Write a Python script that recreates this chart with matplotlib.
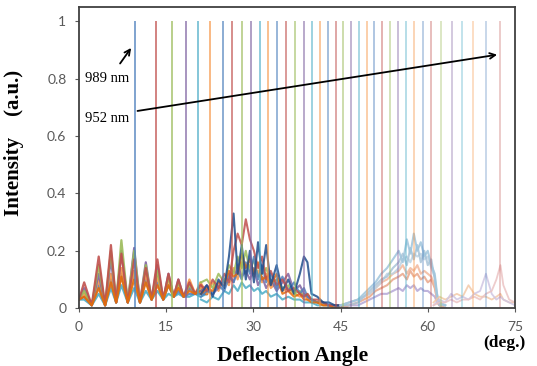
import matplotlib.pyplot as plt

# peak positions (deg) of the main spikes, left to right
spike_angles = [9.6, 13.2, 16.0, 18.4, 20.5, 22.5, 24.7, 26.4, 28.0, 29.6,
                31.1, 32.6, 34.1, 35.6, 37.1, 38.7, 40.1, 41.5, 42.8, 44.2,
                45.5, 46.8, 48.1, 49.5, 50.7, 52.1, 53.5, 54.9, 56.3, 57.6,
                59.1, 60.6, 62.2, 64.1, 65.9, 67.7, 70.1, 72.5]
spike_heights = [1.0] * len(spike_angles)

# excel 2010 series colours
palette = ["#4F81BD", "#C0504D", "#9BBB59", "#8064A2", "#4BACC6", "#F79646"]

# side lobes 0-22 deg: peak / trough positions
a_peak_ang = [0.9, 3.4, 5.5, 7.3, 9.5, 11.5, 13.5, 15.4, 17.1, 19.0, 20.9]
a_trough_ang = [0.0, 2.2, 4.5, 6.4, 8.4, 10.5, 12.5, 14.5, 16.3, 18.0, 20.0, 22.0]
a_trough = [0.03, 0.01, 0.01, 0.02, 0.02, 0.02, 0.03, 0.03, 0.04, 0.04, 0.05, 0.05]
a_peaks = {
    "#4BACC6": [0.03, 0.05, 0.07, 0.08, 0.07, 0.06, 0.06, 0.05, 0.05, 0.04, 0.04],
    "#4F81BD": [0.04, 0.08, 0.10, 0.12, 0.13, 0.10, 0.09, 0.08, 0.06, 0.05, 0.05],
    "#F79646": [0.05, 0.10, 0.12, 0.14, 0.13, 0.12, 0.11, 0.10, 0.08, 0.10, 0.09],
    "#8064A2": [0.07, 0.12, 0.17, 0.20, 0.21, 0.16, 0.15, 0.12, 0.10, 0.07, 0.06],
    "#9BBB59": [0.06, 0.15, 0.20, 0.237, 0.20, 0.15, 0.13, 0.11, 0.09, 0.08, 0.07],
    "#C0504D": [0.09, 0.18, 0.22, 0.19, 0.17, 0.14, 0.17, 0.12, 0.10, 0.09, 0.08],
    "#E46C0A": [0.04, 0.07, 0.09, 0.11, 0.10, 0.09, 0.08, 0.08, 0.07, 0.06, 0.06],
}

# side lobes 21-46 deg
b_ang = [21, 22, 23, 24, 25, 25.8, 26.6, 27.3, 28, 28.7, 29.4, 30.1, 30.8, 31.5, 32.2,
         33, 34, 35, 36, 37, 38, 38.7, 39.3, 40, 41, 42, 43, 44, 45, 46]
b_traces = {
    "#4BACC6": [0.03, 0.02, 0.04, 0.03, 0.06, 0.05, 0.08, 0.06, 0.09, 0.07, 0.08, 0.06, 0.07, 0.05, 0.06,
                0.04, 0.05, 0.03, 0.04, 0.03, 0.03, 0.02, 0.02, 0.02, 0.01, 0.01, 0.01, 0.0, 0.0, 0.0],
    "#F79646": [0.07, 0.05, 0.09, 0.06, 0.10, 0.08, 0.14, 0.10, 0.16, 0.12, 0.15, 0.11, 0.13, 0.09, 0.12,
                0.07, 0.09, 0.06, 0.07, 0.05, 0.04, 0.05, 0.03, 0.03, 0.02, 0.01, 0.01, 0.01, 0.0, 0.0],
    "#8064A2": [0.06, 0.08, 0.05, 0.07, 0.10, 0.12, 0.09, 0.15, 0.11, 0.13, 0.10, 0.14, 0.08, 0.11, 0.07,
                0.10, 0.06, 0.09, 0.12, 0.06, 0.08, 0.05, 0.04, 0.03, 0.02, 0.02, 0.01, 0.01, 0.01, 0.0],
    "#9BBB59": [0.09, 0.10, 0.07, 0.12, 0.09, 0.15, 0.12, 0.18, 0.14, 0.20, 0.13, 0.17, 0.11, 0.12, 0.14,
                0.09, 0.10, 0.07, 0.08, 0.05, 0.06, 0.04, 0.05, 0.03, 0.02, 0.02, 0.01, 0.01, 0.0, 0.0],
    "#4F81BD": [0.04, 0.06, 0.05, 0.08, 0.06, 0.11, 0.09, 0.13, 0.10, 0.16, 0.12, 0.18, 0.10, 0.15, 0.09,
                0.12, 0.07, 0.11, 0.06, 0.09, 0.05, 0.07, 0.04, 0.03, 0.02, 0.02, 0.01, 0.01, 0.0, 0.0],
    "#E46C0A": [0.05, 0.07, 0.06, 0.09, 0.08, 0.13, 0.11, 0.12, 0.19, 0.14, 0.17, 0.12, 0.16, 0.10, 0.11,
                0.08, 0.12, 0.05, 0.06, 0.04, 0.05, 0.03, 0.03, 0.02, 0.02, 0.01, 0.01, 0.0, 0.0, 0.0],
    "#C0504D": [0.08, 0.06, 0.10, 0.07, 0.12, 0.09, 0.20, 0.26, 0.22, 0.31, 0.24, 0.20, 0.14, 0.18, 0.10,
                0.13, 0.08, 0.10, 0.06, 0.07, 0.05, 0.04, 0.05, 0.03, 0.03, 0.02, 0.01, 0.01, 0.01, 0.0],
    "#1F4E8C": [0.05, 0.08, 0.04, 0.10, 0.07, 0.18, 0.33, 0.12, 0.22, 0.10, 0.20, 0.09, 0.23, 0.12, 0.22,
                0.08, 0.15, 0.06, 0.10, 0.05, 0.12, 0.18, 0.16, 0.05, 0.04, 0.02, 0.02, 0.01, 0.01, 0.01],
}

# side lobes 45-63 deg (pale series)
c_ang = [45, 46.5, 48, 49, 50, 51, 52, 53, 54, 55, 55.7, 56.4, 57, 57.6, 58.2, 58.8,
         59.4, 60, 60.6, 61.2, 61.6, 62, 63]
c_traces = {
    "#B4A7D6": [0.0, 0.01, 0.01, 0.02, 0.03, 0.04, 0.05, 0.05, 0.06, 0.07, 0.06, 0.08, 0.07, 0.08, 0.06, 0.07,
                0.06, 0.06, 0.05, 0.04, 0.02, 0.01, 0.0],
    "#E8A68A": [0.0, 0.01, 0.02, 0.03, 0.04, 0.06, 0.07, 0.08, 0.10, 0.11, 0.12, 0.10, 0.13, 0.11, 0.12, 0.10,
                0.11, 0.09, 0.10, 0.07, 0.03, 0.01, 0.0],
    "#F2B89C": [0.01, 0.02, 0.03, 0.04, 0.05, 0.07, 0.09, 0.10, 0.12, 0.13, 0.15, 0.12, 0.14, 0.13, 0.15, 0.12,
                0.13, 0.12, 0.11, 0.08, 0.03, 0.01, 0.0],
    "#BCD3E3": [0.01, 0.02, 0.03, 0.04, 0.05, 0.07, 0.09, 0.12, 0.12, 0.14, 0.17, 0.18, 0.16, 0.19, 0.18, 0.19,
                0.17, 0.18, 0.14, 0.11, 0.04, 0.02, 0.01],
    "#A9C4D8": [0.01, 0.01, 0.02, 0.04, 0.06, 0.08, 0.10, 0.11, 0.14, 0.16, 0.19, 0.15, 0.21, 0.17, 0.22, 0.16,
                0.20, 0.15, 0.17, 0.10, 0.04, 0.01, 0.01],
    "#9FC5DC": [0.01, 0.02, 0.03, 0.05, 0.07, 0.09, 0.12, 0.14, 0.17, 0.20, 0.16, 0.24, 0.19, 0.26, 0.20, 0.23,
                0.18, 0.20, 0.15, 0.12, 0.05, 0.02, 0.01],
}

# side lobes 61-75 deg
d_ang = [61, 62, 63, 64, 65, 66, 67, 68, 69, 70, 71, 71.8, 72.5, 73, 74, 75]
d_traces = {
    "#F3C9A8": [0.02, 0.04, 0.03, 0.04, 0.05, 0.04, 0.08, 0.05, 0.04, 0.04, 0.03, 0.04, 0.05, 0.03, 0.02, 0.02],
    "#CFC6E3": [0.01, 0.03, 0.02, 0.05, 0.03, 0.04, 0.03, 0.05, 0.06, 0.12, 0.05, 0.03, 0.04, 0.03, 0.02, 0.01],
    "#EBC3C3": [0.01, 0.02, 0.02, 0.03, 0.02, 0.03, 0.03, 0.04, 0.03, 0.05, 0.06, 0.10, 0.15, 0.08, 0.03, 0.02],
}

fig = plt.figure(figsize=(5.37, 3.66), dpi=100)
ax = fig.add_axes([0.147, 0.158, 0.812, 0.823])

# side lobes
for color, peaks in a_peaks.items():
    xs, ys = [], []
    for i in range(len(a_trough_ang)):
        xs.append(a_trough_ang[i])
        ys.append(a_trough[i])
        if i < len(peaks):
            xs.append(a_peak_ang[i])
            ys.append(peaks[i])
    ax.plot(xs, ys, color=color, lw=1.6, alpha=0.9)
for color, vals in b_traces.items():
    ax.plot(b_ang, vals, color=color, lw=1.5, alpha=0.85)
for color, vals in c_traces.items():
    ax.plot(c_ang, vals, color=color, lw=1.5, alpha=0.85)
for color, vals in d_traces.items():
    ax.plot(d_ang, vals, color=color, lw=1.3, alpha=0.85)

# main spikes, getting paler to the right
n = len(spike_angles)
for i, (a, h) in enumerate(zip(spike_angles, spike_heights)):
    alpha = 0.85 - 0.5 * i / (n - 1)
    ax.vlines(a, 0, h, colors=palette[i % 6], lw=1.2, alpha=alpha)

ax.set_xlim(0, 75)
ax.set_ylim(0, 1.05)
ax.set_xticks([0, 15, 30, 45, 60, 75])
ax.set_yticks([0, 0.2, 0.4, 0.6, 0.8, 1.0])
ax.set_yticklabels(["0", "0.2", "0.4", "0.6", "0.8", "1"])
ax.tick_params(labelsize=10, colors="#595959", length=3, pad=6)
for lab in ax.get_xticklabels() + ax.get_yticklabels():
    lab.set_family("Lato")
for s in ax.spines.values():
    s.set_color("#404040")
    s.set_linewidth(1.3)

ax.set_ylabel("Intensity    (a.u.)", family="Liberation Serif", fontweight="bold", fontsize=15)
ax.yaxis.set_label_coords(-0.125, 0.55)
ax.set_xlabel("Deflection Angle", family="Liberation Serif", fontweight="bold", fontsize=15.5)
ax.xaxis.set_label_coords(0.49, -0.125)
ax.text(0.975, -0.117, "(deg.)", transform=ax.transAxes, family="Liberation Serif",
        fontweight="bold", fontsize=12.5, ha="center", va="center")

# wavelength annotations
ax.text(4.8, 0.80, "989 nm", family="Liberation Serif", fontsize=10.5, ha="center", va="center")
ax.annotate("", xy=(9.25, 0.915), xytext=(6.8, 0.845),
            arrowprops=dict(arrowstyle="->", color="black", lw=1.3))
ax.text(4.8, 0.662, "952 nm", family="Liberation Serif", fontsize=10.5, ha="center", va="center")
ax.annotate("", xy=(72.4, 0.885), xytext=(9.6, 0.686),
            arrowprops=dict(arrowstyle="->", color="black", lw=1.3))

fig.savefig("out.png", dpi=100)
